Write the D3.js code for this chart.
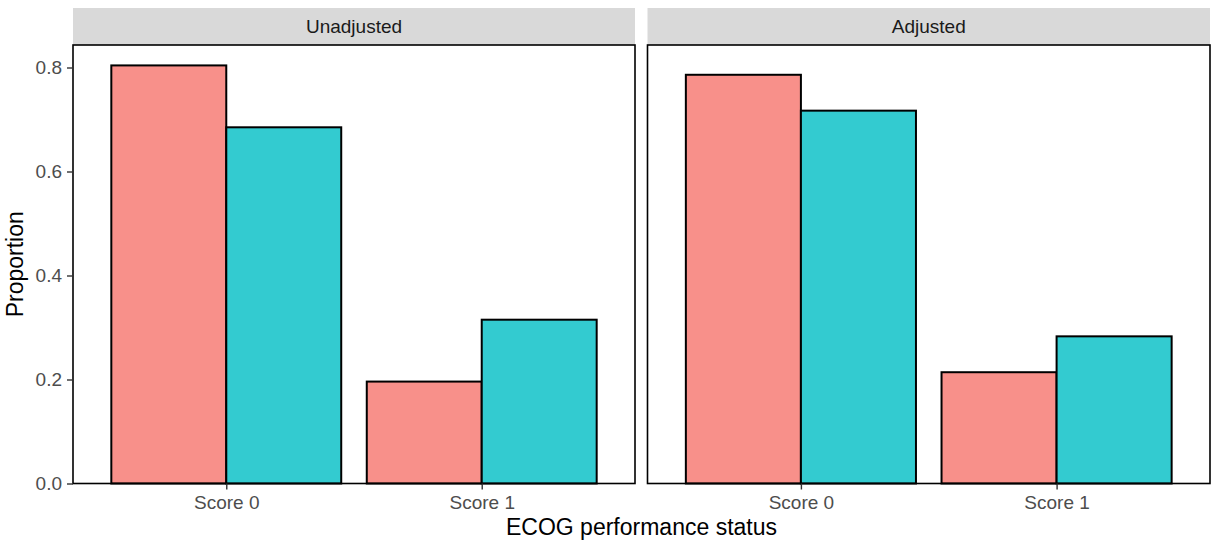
<!DOCTYPE html>
<html>
<head>
<meta charset="utf-8">
<script src="https://cdn.jsdelivr.net/npm/d3@7"></script>
<style>
  body { margin: 0; background: #fff; }
  text { font-family: "Liberation Sans", Arial, sans-serif; }
</style>
</head>
<body>
<div id="chart"></div>
<script>
// facets, categories, groups and values
const panels = ["Unadjusted", "Adjusted"];
const scores = ["Score 0", "Score 1"];
const groups = ["A", "B"];
const colors = ["#F8908A", "#33CBD0"];
const unadjustedValues = [[0.804, 0.685], [0.196, 0.315]];   // [score][group]
const adjustedValues = [[0.786, 0.717], [0.214, 0.283]];
const yTicks = [0.0, 0.2, 0.4, 0.6, 0.8];

const values = { Unadjusted: unadjustedValues, Adjusted: adjustedValues };

const W = 1214, H = 542;
const panelTop = 45, panelBottom = 483.5, stripTop = 8;
const panelX = [[73, 635], [647.5, 1210]];

const svg = d3.select("#chart").append("svg")
    .attr("width", W)
    .attr("height", H);

const yScale = d3.scaleLinear()
    .domain([0, 1])
    .range([panelBottom, panelBottom - 520]);

panels.forEach((p, i) => {
    const [x0, x1] = panelX[i];

    // discrete scale with ggplot-like expansion (0.6 each side)
    const xScale = d3.scalePoint()
        .domain(scores)
        .range([x0 + (x1 - x0) * 0.6 / 2.2, x1 - (x1 - x0) * 0.6 / 2.2]);
    const unit = (x1 - x0) / 2.2;
    const xInner = d3.scaleBand()
        .domain(groups)
        .range([-unit * 0.45, unit * 0.45]);

    // strip
    svg.append("rect")
        .attr("x", x0).attr("y", stripTop)
        .attr("width", x1 - x0).attr("height", panelTop - stripTop)
        .attr("fill", "#d9d9d9");
    svg.append("text")
        .attr("x", (x0 + x1) / 2).attr("y", 33)
        .attr("text-anchor", "middle")
        .attr("font-size", 19)
        .attr("fill", "#1a1a1a")
        .text(p);

    // bars
    const barData = [];
    scores.forEach((s, si) => groups.forEach((g, gi) => {
        barData.push({ score: s, group: g, gi: gi, value: values[p][si][gi] });
    }));
    svg.append("g").selectAll("rect")
        .data(barData)
        .enter()
        .append("rect")
        .attr("x", d => xScale(d.score) + xInner(d.group))
        .attr("y", d => yScale(d.value))
        .attr("width", xInner.bandwidth())
        .attr("height", d => yScale(0) - yScale(d.value))
        .attr("fill", d => colors[d.gi])
        .attr("stroke", "#000")
        .attr("stroke-width", 2);

    // panel border
    svg.append("rect")
        .attr("x", x0).attr("y", panelTop)
        .attr("width", x1 - x0).attr("height", panelBottom - panelTop)
        .attr("fill", "none")
        .attr("stroke", "#000")
        .attr("stroke-width", 1.6);

    // x axis
    const xAxis = svg.append("g")
        .attr("transform", `translate(0,${panelBottom})`)
        .call(d3.axisBottom(xScale).tickSize(6).tickPadding(6));
    xAxis.select(".domain").remove();
    xAxis.selectAll("line").attr("stroke", "#333").attr("stroke-width", 1.4);
    xAxis.selectAll("text")
        .attr("font-size", 19)
        .attr("fill", "#4d4d4d")
        .style("font-family", "'Liberation Sans', Arial, sans-serif");

    // y axis only on first panel
    if (i === 0) {
        const yAxis = svg.append("g")
            .attr("transform", `translate(${x0},0)`)
            .call(d3.axisLeft(yScale).tickValues(yTicks).tickFormat(d3.format(".1f")).tickSize(6).tickPadding(5));
        yAxis.select(".domain").remove();
        yAxis.selectAll("line").attr("stroke", "#333").attr("stroke-width", 1.4);
        yAxis.selectAll("text")
            .attr("font-size", 19)
            .attr("fill", "#4d4d4d")
            .style("font-family", "'Liberation Sans', Arial, sans-serif");
    }
});

// axis titles
svg.append("text")
    .attr("x", (panelX[0][0] + panelX[1][1]) / 2)
    .attr("y", 535)
    .attr("text-anchor", "middle")
    .attr("font-size", 23)
    .attr("fill", "#000")
    .text("ECOG performance status");

svg.append("text")
    .attr("transform", `translate(23,${(panelTop + panelBottom) / 2}) rotate(-90)`)
    .attr("text-anchor", "middle")
    .attr("font-size", 23)
    .attr("fill", "#000")
    .text("Proportion");
</script>
</body>
</html>
